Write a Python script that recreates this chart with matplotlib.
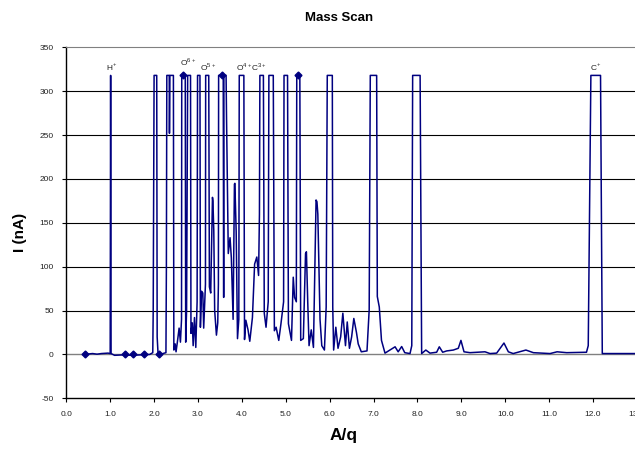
import matplotlib.pyplot as plt
from matplotlib.ticker import FixedLocator, FormatStrFormatter

plt.rcParams["font.family"] = ["Liberation Sans", "DejaVu Sans"]
plt.rcParams["mathtext.fontset"] = "custom"
plt.rcParams["mathtext.rm"] = "Liberation Sans"
plt.rcParams["axes.unicode_minus"] = False

# scan trace (A/q, current in nA)
aq = [
    0.40, 0.43, 0.50, 0.60, 0.70, 0.80, 0.95, 1.00, 1.01, 1.02, 1.10, 1.30, 1.50, 1.70, 1.90,
    1.97, 1.98, 2.00, 2.06, 2.07, 2.09, 2.15, 2.20, 2.27, 2.28, 2.29, 2.345, 2.35, 2.36, 2.44,
    2.45, 2.48, 2.50, 2.53, 2.57, 2.60, 2.625, 2.63, 2.71, 2.72, 2.74, 2.765, 2.83,
    2.84, 2.87, 2.89, 2.92, 2.95, 2.98, 2.99, 3.045, 3.055, 3.08, 3.11, 3.13, 3.17, 3.175, 3.245,
    3.26, 3.29, 3.33, 3.34, 3.36, 3.38, 3.42, 3.45, 3.465, 3.47, 3.575, 3.585, 3.59, 3.64,
    3.65, 3.69, 3.73, 3.76, 3.80, 3.83, 3.84, 3.87, 3.90, 3.93, 3.94, 4.045,
    4.06, 4.09, 4.14, 4.18, 4.24, 4.29, 4.34, 4.38, 4.40, 4.41, 4.49,
    4.51, 4.55, 4.60, 4.615, 4.715, 4.74, 4.78, 4.84, 4.89, 4.95, 4.96, 5.04,
    5.06, 5.09, 5.13, 5.17, 5.20, 5.24, 5.25, 5.32,
    5.34, 5.40, 5.45, 5.47, 5.50, 5.53, 5.58, 5.63, 5.69, 5.71, 5.73, 5.78, 5.82, 5.88, 5.92,
    5.945, 6.06, 6.07, 6.09, 6.14, 6.19, 6.25, 6.30, 6.36, 6.40, 6.45, 6.50, 6.55, 6.61, 6.65,
    6.72, 6.85, 6.90, 6.925, 7.07, 7.085, 7.13, 7.18, 7.26, 7.37, 7.49, 7.56, 7.64, 7.71, 7.83,
    7.87, 7.89, 8.06, 8.095, 8.19, 8.285, 8.437, 8.497, 8.574, 8.665, 8.816, 8.93, 8.99, 9.06,
    9.196, 9.348, 9.538, 9.652, 9.804, 9.97, 10.07, 10.18, 10.47, 10.64, 11.02, 11.18, 11.4,
    11.78, 11.85, 11.89, 11.95, 12.17, 12.21, 12.6, 12.95, 13.0,
]
current = [
    1, 1, 0.5, 1, 0.3, 1, 1.5, 1, 318, 1, -1, -0.5, -1, -0.5, 0,
    2, 50, 318, 318, 20, 1, 0, 1, 2, 96, 318, 318, 252, 318, 318,
    5, 12, 3, 14, 30, 14, 40, 318, 318, 14, 50, 318, 318,
    24, 36, 10, 42, 8, 60, 318, 318, 31, 72, 70, 30, 80, 318, 318,
    77, 70, 179, 175, 141, 50, 22, 36, 80, 318, 318, 65, 318, 318,
    271, 115, 133, 110, 40, 194, 195, 140, 18, 40, 318, 318,
    17, 39, 28, 15, 42, 103, 111, 90, 160, 318, 318,
    47, 31, 60, 318, 318, 27, 31, 16, 35, 60, 318, 318,
    35, 27, 16, 88, 65, 60, 318, 318,
    16, 18, 115, 117, 60, 10, 28, 8, 176, 174, 160, 40, 10, 5, 54,
    318, 318, 54, 5, 31, 7, 20, 47, 10, 37, 7, 20, 41, 25, 12,
    3, 4, 51, 318, 318, 66, 54, 16, 1.5, 5, 8.7, 3, 9, 2, 1,
    10, 318, 318, 1, 5, 1.5, 2.5, 8.7, 2.5, 4, 5, 7, 16, 3,
    2, 2.5, 3, 1, 1.5, 13, 3, 1, 5, 2, 1, 3, 2,
    2.5, 2.5, 10, 318, 318, 1, 1, 1, 1,
]

# highlighted points (diamond markers)
mark_aq = [0.43, 1.34, 1.51, 1.77, 2.12, 2.65, 3.55, 5.28]
mark_current = [1, 0, 0, 0, 1, 318, 318, 318]

# peak labels
peak_labels = [r"H$^{+}$", r"O$^{6+}$", r"O$^{5+}$", r"O$^{4+}$", r"C$^{3+}$", r"C$^{+}$"]
peak_aq = [1.03, 2.77, 3.22, 4.04, 4.38, 12.05]
peak_current = [328, 333, 328, 328, 328, 328]

fig = plt.figure(figsize=(6.35, 4.55), dpi=100)
ax = fig.add_axes([0.1044, 0.1246, 0.8987, 0.7714])

for y in range(50, 301, 50):
    ax.axhline(y, color="black", lw=0.8, zorder=1)
ax.axhline(0, color="#808080", lw=1.0, zorder=1)

ax.plot(aq, current, color="#000080", lw=1.1, zorder=3)
ax.plot(mark_aq, mark_current, ls="none", marker="D", ms=3.5, color="#000080", zorder=4)

for lab, x, y in zip(peak_labels, peak_aq, peak_current):
    ax.text(x, y, lab, fontsize=6, ha="center", va="center", color="#222222")

ax.set_xlim(0, 13)
ax.set_ylim(-50, 350)
ax.xaxis.set_major_locator(FixedLocator(range(0, 14)))
ax.xaxis.set_major_formatter(FormatStrFormatter("%.1f"))
ax.yaxis.set_major_locator(FixedLocator(range(-50, 351, 50)))
ax.tick_params(axis="both", labelsize=6, labelcolor="#222222", length=3, width=0.8,
               direction="out", pad=6)

ax.spines["top"].set_color("#808080")
ax.spines["right"].set_visible(False)
ax.spines["left"].set_linewidth(1.0)
ax.spines["bottom"].set_linewidth(1.0)

fig.text(0.534, 0.961, "Mass Scan", fontsize=9.5, fontweight="bold", ha="center", va="center")
fig.text(0.031, 0.49, "I (nA)", fontsize=11, fontweight="bold", ha="center", va="center",
         rotation=90)
fig.text(0.541, 0.042, "A/q", fontsize=12.5, fontweight="bold", ha="center", va="center")

fig.savefig("out.png", dpi=100)
